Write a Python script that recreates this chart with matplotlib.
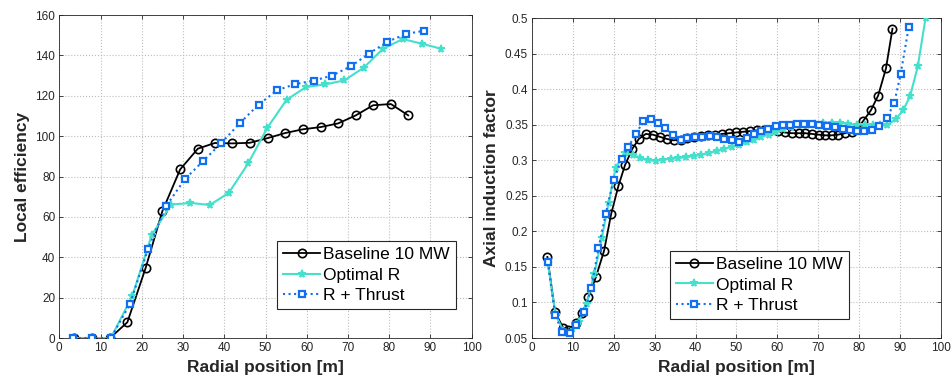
import matplotlib
matplotlib.use("Agg")
import matplotlib.pyplot as plt
from matplotlib.ticker import MultipleLocator

plt.rcParams["font.family"] = ["Liberation Sans", "DejaVu Sans"]

# ---- left panel: local efficiency vs radial position ----
eff_base_r = [3.6, 7.9, 12.3, 16.5, 20.9, 25.0, 29.3, 33.6, 37.7, 41.9,
              46.2, 50.5, 54.7, 59.1, 63.4, 67.6, 71.9, 76.1, 80.4, 84.6]
eff_base = [0, 0, 0, 7.8, 34.5, 62.9, 83.5, 93.8, 96.6, 96.4,
            96.7, 99.0, 101.5, 103.4, 104.5, 106.3, 110.3, 115.3, 115.9, 110.3]

eff_opt_r = [3.4, 7.9, 12.5, 17.7, 22.4, 27.1, 31.8, 36.5, 41.1, 45.8,
             50.4, 55.1, 59.8, 64.4, 69.1, 73.8, 78.5, 83.3, 87.9, 92.6]
eff_opt = [0, 0, 0, 20.8, 51.0, 66.1, 66.9, 65.9, 71.9, 86.5,
           104.0, 118.0, 124.3, 125.6, 127.6, 133.9, 143.3, 148.1, 145.8, 143.3]

eff_thr_r = [3.4, 7.9, 12.5, 17.1, 21.5, 25.9, 30.5, 34.9, 39.3, 43.8,
             48.3, 52.8, 57.2, 61.7, 66.1, 70.7, 75.1, 79.5, 84.0, 88.4]
eff_thr = [0, 0, 0, 16.7, 44.0, 65.4, 78.8, 87.7, 96.6, 106.5,
           115.6, 122.7, 125.8, 127.5, 130.0, 134.6, 140.9, 146.7, 150.6, 152.2]

# ---- right panel: axial induction factor vs radial position ----
ind_base_r = [3.7, 5.6, 7.6, 8.8, 10.6, 12.3, 13.7, 15.6, 17.6, 19.3,
              21.1, 22.7, 24.5, 26.1, 27.8, 29.5, 31.2, 32.9, 34.6, 36.3,
              38.0, 39.7, 41.4, 43.1, 44.8, 46.5, 48.2, 49.9, 51.6, 53.3,
              55.0, 56.7, 58.4, 60.1, 61.8, 63.5, 65.2, 66.9, 68.5, 70.1,
              71.7, 73.3, 74.9, 76.6, 78.2, 79.6, 81.0, 82.9, 84.7, 86.6, 88.2]
ind_base = [0.164, 0.086, 0.064, 0.061, 0.071, 0.085, 0.107, 0.136, 0.173, 0.224,
            0.264, 0.293, 0.316, 0.330, 0.337, 0.336, 0.333, 0.330, 0.328, 0.329,
            0.331, 0.333, 0.334, 0.335, 0.336, 0.337, 0.338, 0.339, 0.340, 0.341,
            0.342, 0.342, 0.342, 0.341, 0.339, 0.338, 0.338, 0.338, 0.337, 0.336,
            0.335, 0.335, 0.336, 0.338, 0.340, 0.344, 0.355, 0.370, 0.391, 0.429, 0.485]

ind_opt_r = [3.8, 5.7, 7.6, 9.5, 11.4, 13.3, 15.2, 17.0, 18.7, 20.4,
             22.6, 24.6, 26.5, 28.4, 30.2, 32.1, 34.0, 35.8, 37.6, 39.5,
             41.4, 43.3, 45.2, 47.0, 48.8, 50.6, 52.5, 54.3, 56.1, 57.9,
             59.7, 61.5, 63.3, 65.2, 67.2, 69.2, 71.2, 73.3, 75.3, 77.4,
             79.4, 81.5, 83.5, 85.2, 86.9, 89.0, 90.8, 92.5, 94.4, 96.3]
ind_opt = [0.156, 0.083, 0.060, 0.058, 0.073, 0.098, 0.140, 0.190, 0.240, 0.289,
           0.310, 0.308, 0.303, 0.300, 0.299, 0.301, 0.302, 0.303, 0.3045, 0.3055,
           0.308, 0.310, 0.313, 0.316, 0.319, 0.322, 0.325, 0.329, 0.333, 0.336,
           0.340, 0.344, 0.347, 0.349, 0.350, 0.351, 0.352, 0.353, 0.353, 0.351,
           0.350, 0.350, 0.350, 0.349, 0.349, 0.358, 0.370, 0.390, 0.432, 0.500]

ind_thr_r = [3.8, 5.6, 7.4, 9.2, 10.7, 12.7, 14.5, 16.2, 18.0, 19.9,
             21.9, 23.5, 25.4, 27.2, 29.0, 30.7, 32.6, 34.4, 36.3, 38.0,
             39.8, 41.6, 43.5, 45.2, 46.9, 48.8, 50.7, 52.5, 54.2, 56.1,
             57.8, 59.6, 61.3, 63.1, 64.8, 66.6, 68.4, 70.3, 72.2, 74.1,
             76.0, 77.8, 79.5, 81.2, 83.1, 84.9, 86.8, 88.6, 90.2, 92.2]
ind_thr = [0.157, 0.082, 0.058, 0.057, 0.068, 0.086, 0.121, 0.176, 0.225, 0.272,
           0.302, 0.319, 0.337, 0.355, 0.358, 0.352, 0.345, 0.336, 0.329, 0.331,
           0.332, 0.333, 0.3335, 0.332, 0.330, 0.328, 0.326, 0.331, 0.337, 0.341,
           0.344, 0.3475, 0.349, 0.350, 0.351, 0.351, 0.351, 0.350, 0.348, 0.347,
           0.344, 0.342, 0.341, 0.341, 0.342, 0.348, 0.359, 0.380, 0.421, 0.488]

labels = ["Baseline 10 MW", "Optimal R", "R + Thrust"]

TXT = "#262626"
TEAL = "#44e0cc"
BLUE = "#1270f0"


def style_axes(ax):
    ax.grid(True, linestyle=":", color="#bdbdbd", linewidth=0.8)
    ax.set_axisbelow(True)
    ax.tick_params(direction="in", length=3, width=0.6, colors=TXT,
                   labelsize=8.5, top=True, right=True, pad=3)
    for s in ax.spines.values():
        s.set_color(TXT)
        s.set_linewidth(0.6)
    ax.set_xlim(0, 100)
    ax.xaxis.set_major_locator(MultipleLocator(10))
    ax.set_xlabel("Radial position [m]", fontsize=12.5, fontweight="bold", color=TXT)


def draw(ax, data):
    (xb, yb), (xo, yo), (xt, yt) = data
    ax.plot(xb, yb, color="black", lw=1.3, marker="o", ms=6, mfc="none",
            mew=1.2, label=labels[0], zorder=3)
    ax.plot(xo, yo, color=TEAL, lw=1.5, marker="*", ms=5.5, mew=1.3,
            label=labels[1], zorder=4)
    ax.plot(xt, yt, color=BLUE, lw=1.5, ls=":", marker="s", ms=5, mfc="white",
            mew=1.6, label=labels[2], zorder=5)


fig = plt.figure(figsize=(9.52, 3.89), dpi=100)
ax1 = fig.add_axes([0.0623, 0.1311, 0.4332, 0.8303])
ax2 = fig.add_axes([0.5591, 0.1311, 0.4290, 0.8226])

draw(ax1, [(eff_base_r, eff_base), (eff_opt_r, eff_opt), (eff_thr_r, eff_thr)])
style_axes(ax1)
ax1.set_ylim(0, 160)
ax1.yaxis.set_major_locator(MultipleLocator(20))
ax1.set_ylabel("Local efficiency", fontsize=12.5, fontweight="bold", color=TXT)

draw(ax2, [(ind_base_r, ind_base), (ind_opt_r, ind_opt), (ind_thr_r, ind_thr)])
style_axes(ax2)
ax2.set_ylim(0.05, 0.5)
ax2.yaxis.set_major_locator(MultipleLocator(0.05))
ax2.yaxis.set_major_formatter(plt.FuncFormatter(lambda v, p: f"{v:g}"))
ax2.set_ylabel("Axial induction factor", fontsize=12.5, fontweight="bold", color=TXT)

leg_kw = dict(loc="upper right", fontsize=12.5, fancybox=False, framealpha=1,
              edgecolor=TXT, handlelength=2.1, handletextpad=0.2,
              labelspacing=0.3, borderpad=0.35, borderaxespad=0)
l1 = ax1.legend(bbox_to_anchor=(0.962, 0.300), **leg_kw)
l2 = ax2.legend(bbox_to_anchor=(0.775, 0.272), **leg_kw)
for lg in (l1, l2):
    lg.get_frame().set_linewidth(0.8)
    for t in lg.get_texts():
        t.set_color("black")

fig.savefig("out.png", dpi=100)
